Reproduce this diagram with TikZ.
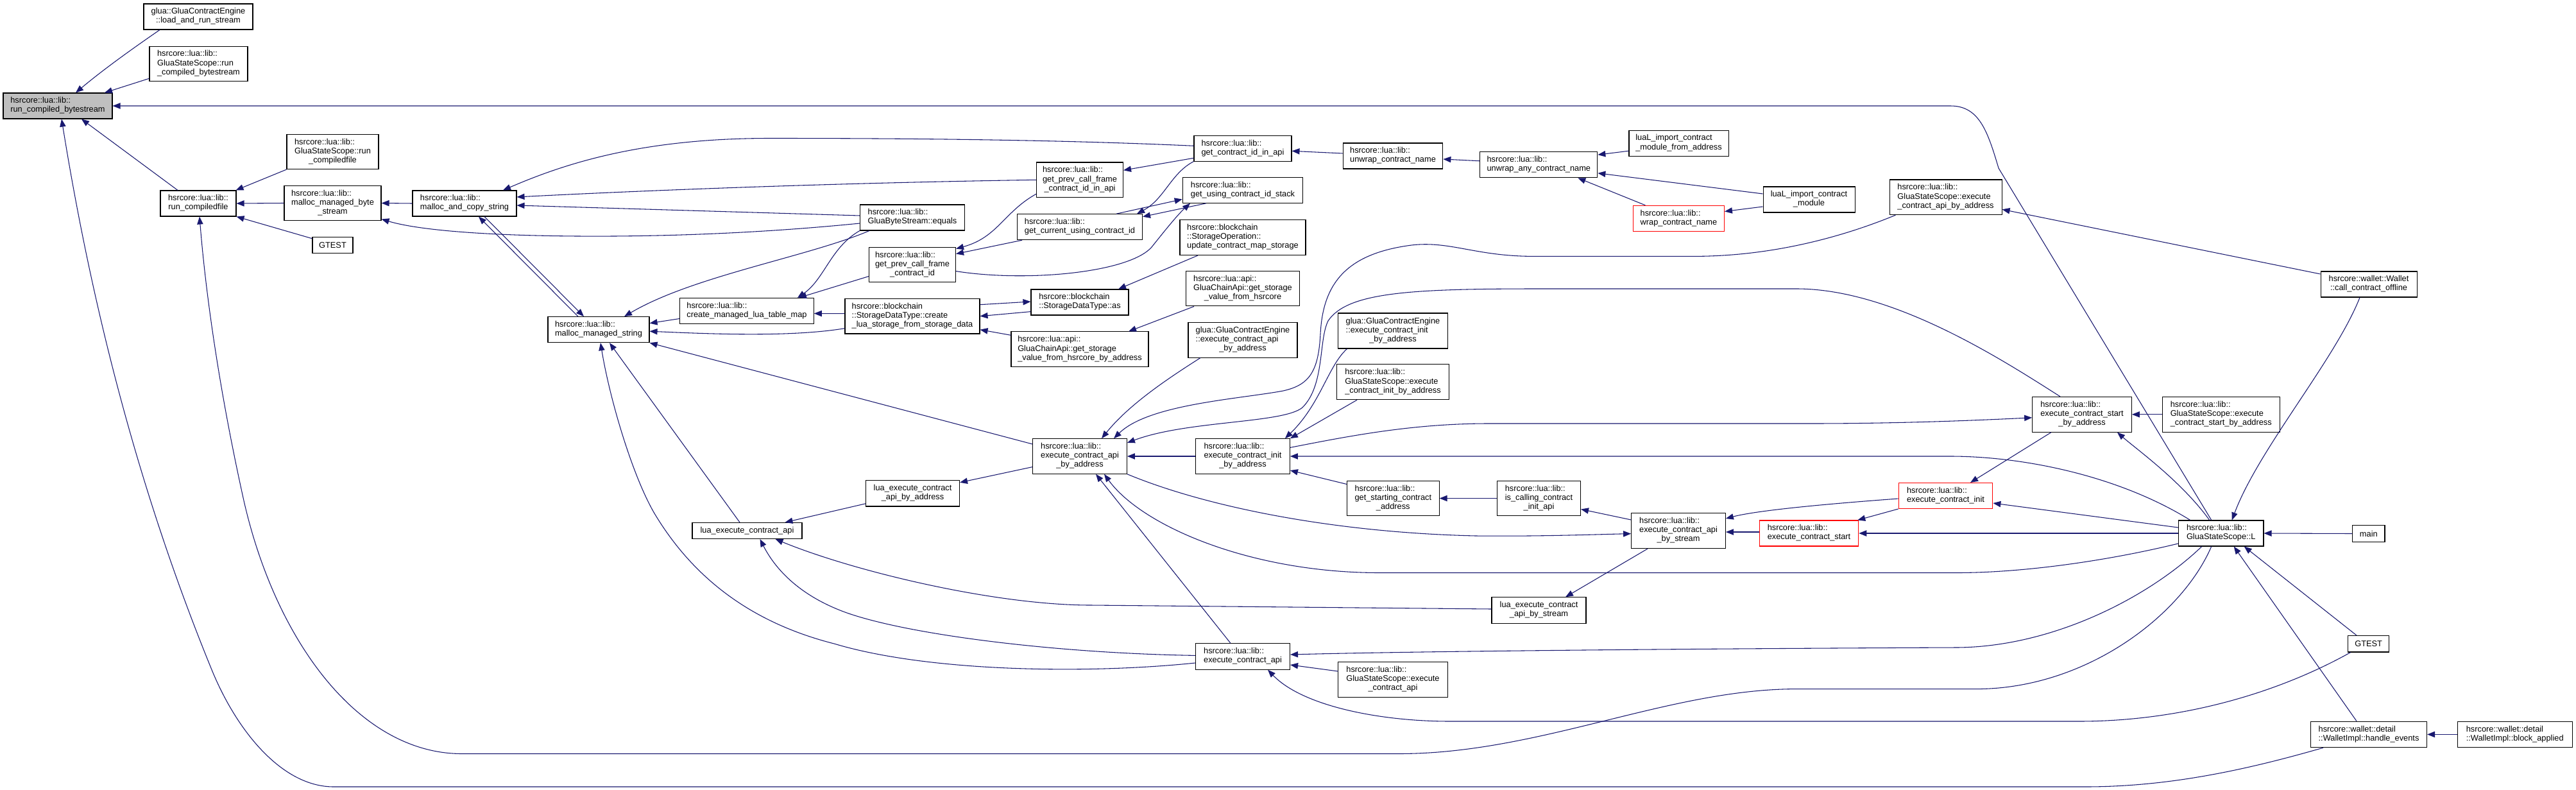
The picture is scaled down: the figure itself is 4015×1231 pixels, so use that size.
\documentclass[tikz,border=0pt]{standalone}
\usepackage{fontspec}
\setmainfont{Liberation Sans}
\usetikzlibrary{arrows.meta,calc}
\definecolor{edgeblue}{RGB}{25,25,112}
\definecolor{nodegray}{RGB}{191,191,191}
\newcommand\LabII[2]{\begin{tabular}{@{}l@{}}#1\\\multicolumn{1}{@{}c@{}}{#2}\end{tabular}}
\newcommand\LabIII[3]{\begin{tabular}{@{}l@{}}#1\\#2\\\multicolumn{1}{@{}c@{}}{#3}\end{tabular}}
\tikzset{
  nbox/.style={draw=black, line width=0.8pt, fill=white, rectangle, inner sep=0pt, font=\fontsize{9.6}{10.6}\selectfont},
  wh/.style 2 args={minimum width=#1*0.75pt, minimum height=#2*0.75pt},
  redbox/.style={nbox, draw=red},
  graybox/.style={nbox, fill=nodegray},
  cl/.style={draw=edgeblue, line width=0.8pt, -{Triangle[length=9pt,width=7pt]}}
}
\begin{document}
\begin{tikzpicture}[x=0.75pt,y=-0.75pt]
\fill[white] (0,0) rectangle (4015,1231);
\useasboundingbox (0,0) rectangle (4015,1231);
% nodes
\node[graybox, wh={170}{40}] (rcb) at (90,165) {\LabII{hsrcore::lua::lib::}{run\_compiled\_bytestream}};
\node[nbox, wh={170}{40}] (lrs) at (309,26) {\LabII{glua::GluaContractEngine}{::load\_and\_run\_stream}};
\node[nbox, wh={153}{54.5}] (gssrcb) at (309.5,99.3) {\LabIII{hsrcore::lua::lib::}{GluaStateScope::run}{\_compiled\_bytestream}};
\node[nbox, wh={118}{40}] (rcf) at (309,317) {\LabII{hsrcore::lua::lib::}{run\_compiledfile}};
\node[nbox, wh={143}{54}] (gssrcf) at (518.5,236.6) {\LabIII{hsrcore::lua::lib::}{GluaStateScope::run}{\_compiledfile}};
\node[nbox, wh={151}{54}] (mmbs) at (518.5,316.5) {\LabIII{hsrcore::lua::lib::}{malloc\_managed\_byte}{\_stream}};
\node[nbox, wh={63}{25}] (gtesta) at (518.5,381.7) {GTEST};
\node[nbox, wh={162}{40}] (macs) at (724,317) {\LabII{hsrcore::lua::lib::}{malloc\_and\_copy\_string}};
\node[nbox, wh={158}{40}] (mms) at (933,513.7) {\LabII{hsrcore::lua::lib::}{malloc\_managed\_string}};
\node[nbox, wh={163}{40}] (equals) at (1422,339) {\LabII{hsrcore::lua::lib::}{GluaByteStream::equals}};
\node[nbox, wh={208.5}{40}] (cmltm) at (1164,484.5) {\LabII{hsrcore::lua::lib::}{create\_managed\_lua\_table\_map}};
\node[nbox, wh={135}{54}] (gpcf) at (1422,412.6) {\LabIII{hsrcore::lua::lib::}{get\_prev\_call\_frame}{\_contract\_id}};
\node[nbox, wh={210}{54.6}] (clsfsd) at (1422,492.7) {\LabIII{hsrcore::blockchain}{::StorageDataType::create}{\_lua\_storage\_from\_storage\_data}};
\node[nbox, wh={135}{54.6}] (gpcfapi) at (1683,280.3) {\LabIII{hsrcore::lua::lib::}{get\_prev\_call\_frame}{\_contract\_id\_in\_api}};
\node[nbox, wh={195}{40}] (gcuci) at (1683,353.7) {\LabII{hsrcore::lua::lib::}{get\_current\_using\_contract\_id}};
\node[nbox, wh={152}{40}] (sdtas) at (1683,471) {\LabII{hsrcore::blockchain}{::StorageDataType::as}};
\node[nbox, wh={214}{54.7}] (gsvhba) at (1683,544.3) {\LabIII{hsrcore::lua::api::}{GluaChainApi::get\_storage}{\_value\_from\_hsrcore\_by\_address}};
\node[nbox, wh={152}{39.5}] (gciia) at (1937,231.3) {\LabII{hsrcore::lua::lib::}{get\_contract\_id\_in\_api}};
\node[nbox, wh={187.6}{39.5}] (gucis) at (1937,296.5) {\LabII{hsrcore::lua::lib::}{get\_using\_contract\_id\_stack}};
\node[nbox, wh={196}{55}] (ucms) at (1937,370) {\LabIII{hsrcore::blockchain}{::StorageOperation::}{update\_contract\_map\_storage}};
\node[nbox, wh={176.5}{54.3}] (gsvh) at (1937,449.8) {\LabIII{hsrcore::lua::api::}{GluaChainApi::get\_storage}{\_value\_from\_hsrcore}};
\node[nbox, wh={170}{54.5}] (geapiba) at (1937,529.8) {\LabIII{glua::GluaContractEngine}{::execute\_contract\_api}{\_by\_address}};
\node[nbox, wh={146.7}{54.5}] (eapiba) at (1683,711) {\LabIII{hsrcore::lua::lib::}{execute\_contract\_api}{\_by\_address}};
\node[nbox, wh={146.7}{54.5}] (eciba) at (1937,711) {\LabIII{hsrcore::lua::lib::}{execute\_contract\_init}{\_by\_address}};
\node[nbox, wh={171}{55}] (geciba) at (2171,515.5) {\LabIII{glua::GluaContractEngine}{::execute\_contract\_init}{\_by\_address}};
\node[nbox, wh={175}{55}] (gsseciba) at (2171,595.2) {\LabIII{hsrcore::lua::lib::}{GluaStateScope::execute}{\_contract\_init\_by\_address}};
\node[nbox, wh={143.5}{54.6}] (gsca) at (2171.3,776.5) {\LabIII{hsrcore::lua::lib::}{get\_starting\_contract}{\_address}};
\node[nbox, wh={130}{54.6}] (icia) at (2398.5,776.5) {\LabIII{hsrcore::lua::lib::}{is\_calling\_contract}{\_init\_api}};
\node[nbox, wh={146}{40.4}] (lecaba) at (1422.5,768.8) {\LabII{lua\_execute\_contract}{\_api\_by\_address}};
\node[nbox, wh={171}{25}] (leca) at (1164.5,827) {lua\_execute\_contract\_api};
\node[nbox, wh={147}{40.3}] (eca) at (1937,1023) {\LabII{hsrcore::lua::lib::}{execute\_contract\_api}};
\node[nbox, wh={170.4}{54.6}] (gsseca) at (2171,1059) {\LabIII{hsrcore::lua::lib::}{GluaStateScope::execute}{\_contract\_api}};
\node[nbox, wh={147}{40.3}] (lecabs) at (2398.5,951) {\LabII{lua\_execute\_contract}{\_api\_by\_stream}};
\node[nbox, wh={146.7}{55}] (ecabs) at (2616,827) {\LabIII{hsrcore::lua::lib::}{execute\_contract\_api}{\_by\_stream}};
\node[nbox, wh={155.7}{40}] (ucn) at (2171,243) {\LabII{hsrcore::lua::lib::}{unwrap\_contract\_name}};
\node[nbox, wh={183}{40}] (uacn) at (2398.3,256.8) {\LabII{hsrcore::lua::lib::}{unwrap\_any\_contract\_name}};
\node[nbox, wh={155}{40}] (licmfa) at (2616.5,223.2) {\LabII{luaL\_import\_contract}{\_module\_from\_address}};
\node[redbox, wh={142}{40.3}] (wcn) at (2616.4,340.5) {\LabII{hsrcore::lua::lib::}{wrap\_contract\_name}};
\node[nbox, wh={143}{40}] (licm) at (2819.5,311) {\LabII{luaL\_import\_contract}{\_module}};
\node[redbox, wh={154.4}{40}] (ecs) at (2819.5,831) {\LabII{hsrcore::lua::lib::}{execute\_contract\_start}};
\node[redbox, wh={146.7}{40}] (eci) at (3032.5,772.5) {\LabII{hsrcore::lua::lib::}{execute\_contract\_init}};
\node[nbox, wh={175}{54.6}] (gsseapiba) at (3032.5,307.3) {\LabIII{hsrcore::lua::lib::}{GluaStateScope::execute}{\_contract\_api\_by\_address}};
\node[nbox, wh={154.7}{54.7}] (ecsba) at (3245,645.8) {\LabIII{hsrcore::lua::lib::}{execute\_contract\_start}{\_by\_address}};
\node[nbox, wh={183.4}{54.7}] (gssecsba) at (3461.7,645.8) {\LabIII{hsrcore::lua::lib::}{GluaStateScope::execute}{\_contract\_start\_by\_address}};
\node[nbox, wh={132.5}{40}] (gssL) at (3461.7,831) {\LabII{hsrcore::lua::lib::}{GluaStateScope::L}};
\node[nbox, wh={50.3}{25.7}] (main) at (3691.8,831.5) {main};
\node[nbox, wh={64}{25.4}] (gtestb) at (3691.6,1003.3) {GTEST};
\node[nbox, wh={181}{40.4}] (he) at (3692,1144.4) {\LabII{hsrcore::wallet::detail}{::WalletImpl::handle\_events}};
\node[nbox, wh={178.6}{40.4}] (ba) at (3919.7,1144.4) {\LabII{hsrcore::wallet::detail}{::WalletImpl::block\_applied}};
\node[nbox, wh={150}{40}] (cco) at (3692,443) {\LabII{hsrcore::wallet::Wallet}{::call\_contract\_offline}};
% edges (caller -> callee, arrow at callee)
\draw[cl] ($(lrs.south)+(-60,0)$) .. controls (215,70) and (165,105) .. ($(rcb.north)+(28,0)$);
\draw[cl] ($(gssrcb.west)+(0,23)$) -- ($(rcb.north)+(73,0)$);
\draw[cl] ($(rcf.north)+(-32,0)$) -- ($(rcb.south)+(37,0)$);
\draw[cl] ($(gssL.north)+(-15,0)$) -- (3115,262) .. controls (3098,205) and (3085,165) .. (3040,165) -- (rcb.east);
\draw[cl] ($(he.south)+(-71,0)$) .. controls (3500,1200) and (3380,1226) .. (3250,1226) -- (520,1226) .. controls (440,1226) and (370,1140) .. (331,1046) .. controls (230,800) and (150,520) .. ($(rcb.south)+(6,0)$);
\draw[cl] (gssrcf.south west) -- ($(rcf.north east)+(-1,0)$);
\draw[cl] (mmbs.west) -- (rcf.east);
\draw[cl] ($(gtesta.west)+(0,-10)$) -- (rcf.south east);
\draw[cl] (macs.west) -- (mmbs.east);
\draw[cl] ($(equals.west)+(0,9)$) .. controls (1200,362) and (1050,369) .. (900,368) .. controls (750,367) and (650,358) .. ($(mmbs.east)+(0,25)$);
\draw[cl] ($(gciia.west)+(0,-4)$) .. controls (1700,220) and (1500,215.5) .. (1200,215.5) .. controls (1000,215.5) and (880,255) .. ($(macs.north)+(60,0)$);
\draw[cl] (gpcfapi.west) .. controls (1300,285) and (1000,297) .. ($(macs.east)+(0,-10)$);
\draw[cl] ($(equals.west)+(0,-3)$) -- ($(macs.east)+(0,3)$);
\draw[cl] ($(mms.north)+(-32,0)$) -- ($(macs.south)+(22,0)$);
\draw[cl] ($(macs.south)+(31,0)$) -- ($(mms.north)+(-23,0)$);
\draw[cl] ($(equals.south)+(-67,0)$) .. controls (1260,400) and (1080,430) .. ($(mms.north)+(40,0)$);
\draw[cl] (equals.south west) .. controls (1295,385) and (1285,435) .. ($(cmltm.north)+(79,0)$);
\draw[cl] ($(gpcf.west)+(0,18)$) -- ($(cmltm.north)+(81,0)$);
\draw[cl] ($(cmltm.west)+(0,12)$) -- ($(mms.east)+(0,-10)$);
\draw[cl] ($(clsfsd.west)+(0,-4)$) -- ($(cmltm.east)+(0,4)$);
\draw[cl] ($(clsfsd.west)+(0,19)$) .. controls (1230,526) and (1100,520) .. ($(mms.east)+(0,2.5)$);
\draw[cl] ($(clsfsd.east)+(0,-18)$) -- ($(sdtas.west)+(0,-1)$);
\draw[cl] ($(sdtas.west)+(0,14.6)$) -- (clsfsd.east);
\draw[cl] ($(ucms.south)+(-70,0)$) -- ($(sdtas.north)+(60,0)$);
\draw[cl] ($(gsvhba.west)+(0,-22)$) -- ($(clsfsd.east)+(0,21)$);
\draw[cl] ($(gsvh.south)+(-76,0)$) -- ($(gsvhba.north)+(76,0)$);
\draw[cl] ($(gpcfapi.west)+(0,22)$) .. controls (1565,330) and (1555,370) .. ($(gpcf.east)+(0,-25)$);
\draw[cl] ($(gcuci.south)+(-90,0)$) -- ($(gpcf.east)+(0,-17)$);
\draw[cl] ($(gciia.west)+(0,15)$) -- ($(gpcfapi.east)+(0,-15)$);
\draw[cl] (gciia.south west) .. controls (1825,270) and (1815,310) .. ($(gcuci.north)+(89,0)$);
\draw[cl] ($(gcuci.north)+(57,0)$) -- ($(gucis.west)+(0,14)$);
\draw[cl] ($(gucis.south)+(-57,0)$) -- ($(gcuci.east)+(0,-16)$);
\draw[cl] ($(gpcf.east)+(0,10)$) .. controls (1600,440) and (1760,425) .. (1795,385) .. controls (1815,360) and (1835,335) .. ($(gucis.south)+(-82,0)$);
\draw[cl] ($(ucn.west)+(0,-4)$) -- ($(gciia.east)+(0,4)$);
\draw[cl] ($(uacn.west)+(0,-6)$) -- ($(ucn.east)+(0,5)$);
\draw[cl] ($(licmfa.west)+(0,12)$) -- ($(uacn.east)+(0,-15.6)$);
\draw[cl] ($(licm.west)+(0,-9)$) -- ($(uacn.east)+(0,13)$);
\draw[cl] ($(wcn.north)+(-52,0)$) -- ($(uacn.south)+(61,0)$);
\draw[cl] ($(licm.west)+(0,11)$) -- ($(wcn.east)+(0,-11)$);
\draw[cl] ($(geapiba.south)+(-66,0)$) .. controls (1820,590) and (1760,630) .. ($(eapiba.north)+(34,0)$);
\draw[cl] ($(gsseapiba.south)+(-78,0)$) .. controls (2870,370) and (2760,399.4) .. (2640,399.4) -- (2390,399.4) .. controls (2300,399.4) and (2260,375) .. (2200,382) .. controls (2100,395) and (2062,440) .. (2058,520) .. controls (2055,580) and (2040,600) .. (2000,609) .. controls (1930,622) and (1790,630) .. ($(eapiba.north)+(53,0)$);
\draw[cl] (eciba.west) -- (eapiba.east);
\draw[cl] ($(ecsba.north)+(-34,0)$) .. controls (3120,560) and (2950,450) .. (2800,450) -- (2400,450) .. controls (2200,450) and (2100,455) .. (2070,500) .. controls (2055,530) and (2065,600) .. (2030,635) .. controls (2000,660) and (1850,655) .. ($(eapiba.east)+(0,-21)$);
\draw[cl] ($(geciba.south)+(-71.5,0)$) .. controls (2070,570) and (2058,630) .. ($(eciba.north east)+(-8,0)$);
\draw[cl] ($(gsseciba.south)+(-56,0)$) -- (eciba.north east);
\draw[cl] ($(gssL.north)+(-48,0)$) .. controls (3300,740) and (3150,711) .. (3040,711) -- (eciba.east);
\draw[cl] ($(eciba.east)+(0,-13.6)$) .. controls (2100,680) and (2200,660) .. (2320,660) -- (2820,660) .. controls (2950,660) and (3060,656) .. ($(ecsba.west)+(0,5)$);
\draw[cl] ($(gsca.west)+(0,-22)$) -- ($(eciba.east)+(0,22)$);
\draw[cl] (icia.west) -- (gsca.east);
\draw[cl] ($(ecabs.west)+(0,-17)$) -- ($(icia.east)+(0,17)$);
\draw[cl] ($(ecs.west)+(0,-2)$) -- ($(ecabs.east)+(0,2)$);
\draw[cl] ($(eci.west)+(0,4.5)$) .. controls (2850,785) and (2740,795) .. ($(ecabs.east)+(0,-19)$);
\draw[cl] (eci.south west) -- ($(ecs.north east)+(-2,0)$);
\draw[cl] ($(ecsba.south)+(-48,0)$) -- ($(eci.north)+(38.5,0)$);
\draw[cl] (gssecsba.west) -- (ecsba.east);
\draw[cl] ($(gssL.north)+(-18,0)$) .. controls (3400,750) and (3330,700) .. ($(ecsba.south)+(55,0)$);
\draw[cl] ($(gssL.west)+(0,-9)$) -- ($(eci.east)+(0,11.5)$);
\draw[cl] (gssL.west) -- (ecs.east);
\draw[cl] ($(gssL.west)+(0,16)$) .. controls (3280,875) and (3150,892.5) .. (3050,892.5) -- (2150,892.5) .. controls (1950,892.5) and (1780,820) .. ($(eapiba.south)+(38,0)$);
\draw[cl] (eapiba.south east) .. controls (1880,790) and (2080,830) .. (2300,835) .. controls (2400,836) and (2480,833) .. ($(ecabs.west)+(0,4.6)$);
\draw[cl] ($(gssL.south)+(-30,0)$) .. controls (3350,930) and (3200,1008) .. (3050,1009) .. controls (2600,1011) and (2200,1015) .. ($(eca.east)+(0,-3)$);
\draw[cl] ($(gssL.south)+(-15,0)$) .. controls (3400,960) and (3250,1073.6) .. (3080,1073.6) -- (2800,1073.6) .. controls (2600,1073.6) and (2400,1174.5) .. (2180,1174.5) -- (720,1174.5) .. controls (560,1174.5) and (430,1000) .. (380,780) .. controls (340,600) and (320,450) .. ($(rcf.south)+(2,0)$);
\draw[cl] (main.west) -- (gssL.east);
\draw[cl] ($(gtestb.north)+(-18.6,0)$) -- ($(gssL.south)+(36,0)$);
\draw[cl] ($(he.north)+(-19,0)$) -- ($(gssL.south)+(20,0)$);
\draw[cl] ($(cco.south)+(-14,0)$) .. controls (3640,560) and (3520,700) .. ($(gssL.north)+(17,0)$);
\draw[cl] ($(cco.west)+(0,-16)$) -- ($(gsseapiba.east)+(0,19)$);
\draw[cl] (ba.west) -- (he.east);
\draw[cl] ($(gtestb.south)+(-28,0)$) .. controls (3550,1080) and (3400,1124) .. (3240,1124) -- (2260,1124) .. controls (2150,1124) and (2030,1100) .. ($(eca.south)+(39,0)$);
\draw[cl] ($(gsseca.west)+(0,-13)$) -- ($(eca.east)+(0,13)$);
\draw[cl] ($(eca.north)+(-19,0)$) -- ($(eapiba.south)+(25,0)$);
\draw[cl] ($(eapiba.west)+(0,16.6)$) -- ($(lecaba.east)+(0,-17)$);
\draw[cl] ($(eapiba.west)+(0,-19)$) -- (mms.south east);
\draw[cl] ($(lecaba.west)+(0,16)$) -- ($(leca.north)+(59,0)$);
\draw[cl] ($(leca.north)+(-11.5,0)$) -- ($(mms.south)+(17,0)$);
\draw[cl] ($(lecabs.west)+(0,-2)$) -- (1700,943) .. controls (1550,943) and (1330,890) .. ($(leca.south)+(44,0)$);
\draw[cl] ($(ecabs.south)+(-48,0)$) -- ($(lecabs.north)+(41.5,0)$);
\draw[cl] ($(eca.west)+(0,-1.6)$) .. controls (1650,1018) and (1420,990) .. (1320,955) .. controls (1250,930) and (1210,890) .. ($(leca.south)+(20,0)$);
\draw[cl] ($(eca.west)+(0,10)$) .. controls (1700,1050) and (1450,1048) .. (1300,1003) .. controls (1170,970) and (1080,900) .. (1020,800) .. controls (985,740) and (950,620) .. ($(mms.south)+(3,0)$);
\end{tikzpicture}
\end{document}
